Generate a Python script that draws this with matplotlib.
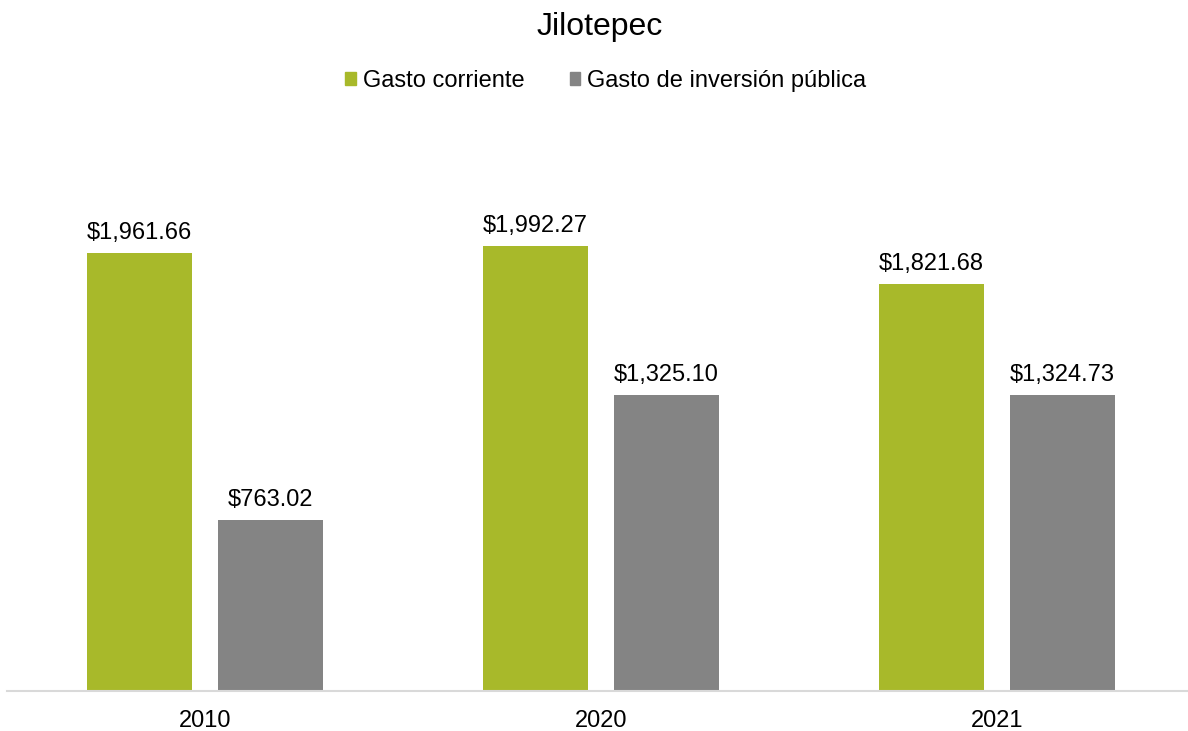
import numpy as np
import matplotlib.pyplot as plt
from matplotlib.patches import Patch

plt.rcParams['font.family'] = ['Liberation Sans', 'DejaVu Sans']

years = ['2010', '2020', '2021']
gasto_corriente = [1961.66, 1992.27, 1821.68]
gasto_inversion = [763.02, 1325.10, 1324.73]
series_names = ['Gasto corriente', 'Gasto de inversión pública']
colors = ['#A8B92A', '#848484']

W, H = 1188, 731
fig = plt.figure(figsize=(W / 100, H / 100), dpi=100)
ax = fig.add_axes([7 / W, 40.5 / H, 1188 / W, 558 / H])

x = np.arange(len(years))
bw = 0.265
off = 0.1654
for vals, dx, c in [(gasto_corriente, -off, colors[0]), (gasto_inversion, off, colors[1])]:
    bars = ax.bar(x + dx, vals, width=bw, color=c)
    for b, v in zip(bars, vals):
        ax.text(b.get_x() + b.get_width() / 2, v + 40, f'${v:,.2f}',
                ha='center', va='bottom', fontsize=17, color='#000000')

ax.set_xlim(-0.5, 2.5)
ax.set_ylim(0, 2500)
ax.set_xticks(x)
ax.set_xticklabels(years, fontsize=17)
ax.tick_params(axis='x', length=0, pad=14)
ax.set_yticks([])
for s in ['top', 'right', 'left']:
    ax.spines[s].set_visible(False)
ax.spines['bottom'].set_color('#D9D9D9')
ax.spines['bottom'].set_linewidth(1.5)

fig.text(600 / W, 1 - 27 / H, 'Jilotepec', ha='center', va='center', fontsize=23)
handles = [Patch(color=c) for c in colors]
fig.legend(handles, series_names, loc='center', bbox_to_anchor=(606 / W, 1 - 81 / H),
           ncol=2, frameon=False, fontsize=17, handlelength=0.45, handleheight=0.45,
           handletextpad=0.3, columnspacing=1.9)

fig.savefig('out.png', dpi=100)
